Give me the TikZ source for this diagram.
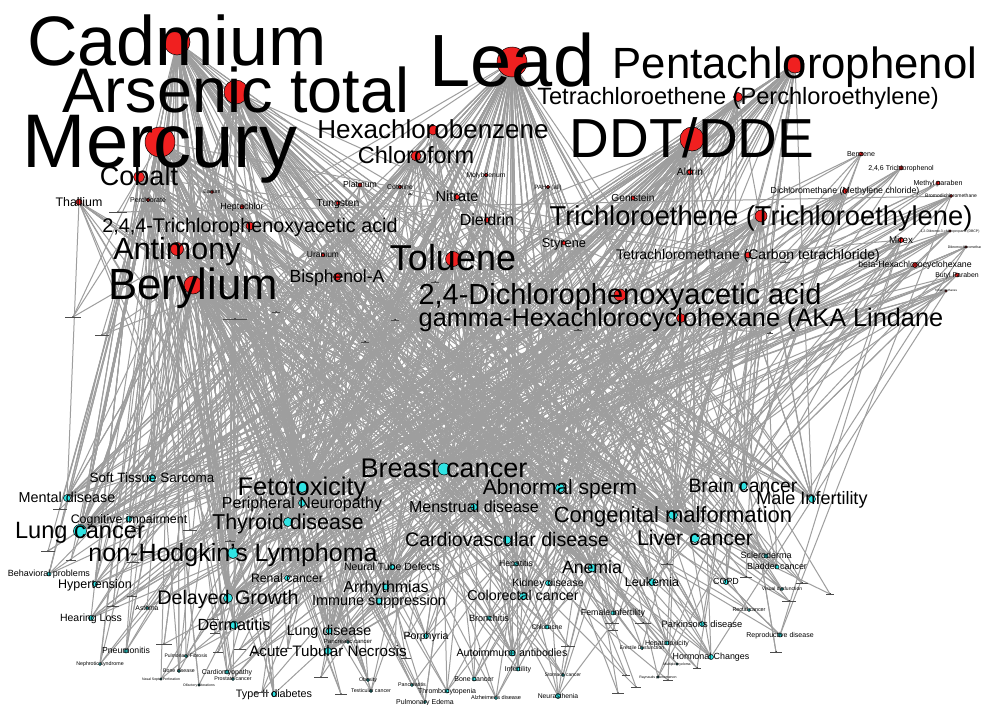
\documentclass[tikz,border=0pt]{standalone}
\usepackage{fontspec}
\setmainfont{Liberation Sans}
\pgfdeclarelayer{paper}
\pgfdeclarelayer{edges}
\pgfsetlayers{paper,edges,main}
\definecolor{chemred}{RGB}{240,32,32}
\definecolor{discyan}{RGB}{48,228,228}
\definecolor{edgegray}{RGB}{158,158,158}
\tikzset{
  edge/.style={draw=edgegray, line width=1pt},
  chemdot/.style={circle, fill=chemred, draw=black, line width=0.5pt, inner sep=0pt},
  disdot/.style={circle, fill=discyan, draw=black, line width=0.5pt, inner sep=0pt},
  minordot/.style={circle, fill=black, inner sep=0pt, minimum size=2pt},
  lbl/.style={inner sep=0pt, anchor=base, text=black},
  ticklabel/.style={draw=black!70, line width=0.35pt},
}
% weighted pool of chemical nodes: heavier substances get more links
\def\chemlist{{"lead","lead","lead","lead","lead","lead","lead","lead","lead","lead","lead","lead",%
"mercury","mercury","mercury","mercury","mercury","mercury","mercury","mercury","mercury","mercury","mercury",%
"cadmium","cadmium","cadmium","cadmium","cadmium","cadmium","cadmium","cadmium","cadmium",%
"arsenic","arsenic","arsenic","arsenic","arsenic","arsenic","arsenic","arsenic","arsenic",%
"ddt","ddt","ddt","ddt","ddt","ddt","ddt",%
"beryl","beryl","beryl","beryl","beryl",%
"penta","penta","penta","penta","penta",%
"toluene","toluene","toluene","toluene",%
"antimony","antimony","antimony","antimony",%
"cobalt","cobalt","cobalt","cobalt",%
"dtwofour","dtwofour","dtwofour","dtwofour",%
"lindane","lindane","lindane","tce","tce","tce","hcb","hcb","hcb",%
"chloroform","chloroform","chloroform","pce","pce","pce",%
"tttri","tttri","bpa","bpa","dieldrin","dieldrin","nitrate","nitrate","thallium","thallium","ctc","ctc",%
"styrene","genistein","aldrin","platinum","cotinine","tungsten","heptachlor","perchlorate","barium",%
"uranium","molyb","pahs","benzene","tcp","mparaben","dcm","bdcm","dbcp","mirex","dbcm","bhch","bparaben","thm"}}
\def\nchem{123}
% random links from a disease node to the chemical pool
\newcommand\linkrandom[2]{%
  \pgfmathtruncatemacro\nlinks{#2*1.6+0.5}%
  \begin{pgfonlayer}{edges}
    \foreach \k in {1,...,\nlinks}{%
      \pgfmathrandominteger{\rnd}{0}{\nchem}%
      \pgfmathparse{\chemlist[\rnd]}\edef\cn{\pgfmathresult}%
      \draw[edge] (#1) -- (\cn);
    }
  \end{pgfonlayer}}
% name, x, y, radius, font size, text
\newcommand\chem[6]{%
  \node[chemdot, minimum size=#4*2pt] (#1) at (#2pt,-#3pt) {};
  \node[lbl, font=\fontsize{#5pt}{#5pt}\selectfont, yshift=-0.33*#5pt] (#1-t) at (#1.center) {#6};}
% name, x, y, radius, font size, text, number of links
\newcommand\dis[7]{%
  \node[disdot, minimum size=#4*2pt] (#1) at (#2pt,-#3pt) {};
  \node[lbl, font=\fontsize{#5pt}{#5pt}\selectfont, yshift=-0.33*#5pt] (#1-t) at (#1.center) {#6};
  \linkrandom{#1}{#7}}
% name, x, y, half width of the unreadable caption, number of links
\newcommand\minor[5]{%
  \node[minordot] (#1) at (#2pt,-#3pt) {};
  \draw[ticklabel] ([xshift=-#4pt]#1.center) -- ([xshift=#4pt]#1.center);
  \linkrandom{#1}{#5}}

\begin{document}
\begin{tikzpicture}
\pgfmathsetseed{7}
\begin{pgfonlayer}{paper}
  \fill[white] (0,0) rectangle (981pt,-704pt);
\end{pgfonlayer}
\useasboundingbox (0,0) rectangle (981pt,-704pt);
\clip (0,0) rectangle (981pt,-704pt);

% ---- chemicals ----
\chem{lead}{512}{62}{15}{74}{Lead}
\chem{mercury}{160}{142}{15}{76}{Mercury}
\chem{cadmium}{177}{42}{13}{70}{Cadmium}
\chem{arsenic}{236}{92}{12}{63}{Arsenic total}
\chem{ddt}{692}{139}{12}{55}{DDT/DDE}
\chem{penta}{795}{64}{9}{43.7}{Pentachlorophenol}
\chem{pce}{738}{97}{4.5}{23.6}{Tetrachloroethene (Perchloroethylene)}
\chem{hcb}{433}{130}{5}{26}{Hexachlorobenzene}
\chem{chloroform}{416}{156}{5}{23.5}{Chloroform}
\chem{cobalt}{139}{177}{5.5}{27}{Cobalt}
\chem{thallium}{79}{202}{3}{12.4}{Thallium}
\chem{perchlorate}{148}{200}{1.8}{7}{Perchlorate}
\chem{barium}{212}{192}{1.5}{5.4}{Barium}
\chem{heptachlor}{242}{207}{2}{8.9}{Heptachlor}
\chem{tttri}{250}{226}{4}{19.8}{2,4,4-Trichlorophenoxyacetic acid}
\chem{antimony}{177}{249}{6.5}{30.5}{Antimony}
\chem{beryl}{193}{285}{9}{43.7}{Berylium}
\chem{platinum}{360}{185}{2}{8.7}{Platinum}
\chem{cotinine}{400}{187}{1.8}{7}{Cotinine}
\chem{tungsten}{338}{203}{2}{10.3}{Tungsten}
\chem{uranium}{323}{255}{1.8}{8.5}{Uranium}
\chem{bpa}{337}{277}{3.5}{17.6}{Bisphenol-A}
\chem{molyb}{486}{175}{1.8}{6.8}{Molybdenum}
\chem{nitrate}{457}{197}{2.5}{14.6}{Nitrate}
\chem{dieldrin}{487}{220}{2.5}{16}{Dieldrin}
\chem{toluene}{453}{259}{7.5}{36}{Toluene}
\chem{pahs}{548}{187}{1.8}{6.2}{PAHs (all)}
\chem{genistein}{633}{198}{2}{10.2}{Genistein}
\chem{aldrin}{690}{172}{2.5}{10.2}{Aldrin}
\chem{styrene}{564}{243}{2}{12.8}{Styrene}
\chem{tce}{761}{216}{6}{27.3}{Trichloroethene (Trichloroethylene)}
\chem{ctc}{748}{255}{3}{14}{Tetrachloromethane (Carbon tetrachloride)}
\chem{dtwofour}{620}{295}{6}{29}{2,4-Dichlorophenoxyacetic acid}
\chem{lindane}{681}{318}{4.5}{25.3}{gamma-Hexachlorocyclohexane (AKA Lindane}
\chem{benzene}{861}{154}{2}{7.1}{Benzene}
\chem{tcp}{901}{168}{2}{7}{2,4,6 Trichlorophenol}
\chem{mparaben}{938}{183}{2}{7.1}{Methyl paraben}
\chem{dcm}{845}{191}{2.5}{8.8}{Dichloromethane (Methylene chloride)}
\chem{bdcm}{951}{196}{1.5}{5}{Bromodichloromethane}
\chem{dbcp}{950}{231}{1.2}{3.5}{1,2-Dibromo-3-chloropropane (DBCP)}
\chem{mirex}{901}{240}{2.5}{9.8}{Mirex}
\chem{dbcm}{966}{247}{1.2}{3.5}{Dibromochloromethane}
\chem{bhch}{915}{265}{2.5}{8.8}{beta-Hexachlorocyclohexane}
\chem{bparaben}{957}{275}{2}{6.9}{Butyl Paraben}
\chem{thm}{946}{291}{1.2}{3}{Trihalomethanes}

% ---- health outcomes ----
\dis{bc}{444}{469}{6}{27}{Breast cancer}{40}
\dis{feto}{302}{487}{5.5}{25.5}{Fetotoxicity}{40}
\dis{absp}{560}{488}{4.5}{21}{Abnormal sperm}{24}
\dis{brain}{743}{486}{4}{19.4}{Brain cancer}{16}
\dis{malinf}{812}{499}{3.5}{18}{Male Infertility}{12}
\dis{sts}{152}{478}{3.5}{13.5}{Soft Tissue Sarcoma}{12}
\dis{mental}{67}{498}{3.5}{14.4}{Mental disease}{10}
\dis{perneu}{302}{503}{3.5}{16}{Peripheral Neuropathy}{18}
\dis{thyroid}{288}{522}{4.5}{21.5}{Thyroid disease}{28}
\dis{menstr}{474}{507}{3.5}{16}{Menstrual disease}{14}
\dis{congen}{673}{515}{4.5}{22}{Congenital malformation}{26}
\dis{cogn}{129}{519}{3}{12.4}{Cognitive impairment}{10}
\dis{lungc}{80}{531}{6.5}{23.6}{Lung cancer}{36}
\dis{nhl}{233}{553}{5.5}{25}{non-Hodgkin's Lymphoma}{34}
\dis{cardio}{507}{540}{4}{19.6}{Cardiovascular disease}{20}
\dis{liverc}{695}{538}{4.5}{21.3}{Liver cancer}{24}
\dis{sclero}{766}{556}{2}{9}{Scleroderma}{4}
\dis{bladder}{777}{567}{2}{8.9}{Bladder cancer}{5}
\dis{behav}{49}{574}{2}{9}{Behavioral problems}{4}
\dis{hyper}{95}{584}{2.5}{12.5}{Hypertension}{6}
\dis{renal}{287}{578}{2.5}{12.2}{Renal cancer}{6}
\dis{ntd}{392}{567}{2.5}{10.5}{Neural Tube Defects}{6}
\dis{hepatitis}{516}{564}{2}{8.7}{Hepatitis}{4}
\dis{anemia}{592}{568}{4}{17.7}{Anemia}{16}
\dis{leuk}{652}{582}{3.5}{12.5}{Leukemia}{10}
\dis{copd}{726}{582}{2.5}{8.9}{COPD}{4}
\dis{arrh}{386}{587}{3}{16}{Arrhythmias}{12}
\dis{kidney}{548}{583}{2.5}{10.5}{Kidney disease}{6}
\dis{delay}{228}{598}{4.5}{19.7}{Delayed Growth}{22}
\dis{immune}{379}{601}{3}{14.4}{Immune suppression}{12}
\dis{colorec}{523}{596}{3.5}{14.3}{Colorectal cancer}{12}
\dis{femin}{613}{613}{2}{8.8}{Female infertility}{4}
\dis{hearing}{91}{618}{2.5}{10.5}{Hearing Loss}{5}
\dis{asthma}{147}{608}{1.5}{6.8}{Asthma}{3}
\dis{derm}{234}{625}{4}{16.2}{Dermatitis}{16}
\dis{lungd}{329}{631}{3}{14.2}{Lung disease}{12}
\dis{bronch}{489}{618}{2}{9.1}{Bronchitis}{4}
\dis{chloracne}{547}{627}{2}{6.8}{Chloracne}{4}
\dis{park}{702}{624}{2.5}{9.3}{Parkinsons disease}{5}
\dis{visual}{782}{589}{1.5}{5}{Visual dysfunction}{3}
\dis{rectal}{749}{610}{1.5}{5.4}{Rectal cancer}{2}
\dis{repro}{780}{635}{2}{7}{Reproductive disease}{4}
\dis{porph}{426}{636}{2.5}{10.5}{Porphyria}{5}
\dis{hepatox}{667}{643}{2}{7}{Hepatotoxicity}{4}
\dis{pancc}{348}{642}{1.5}{6}{Pancreatic cancer}{3}
\dis{atn}{328}{651}{3.5}{15.2}{Acute Tubular Necrosis}{16}
\dis{autoimm}{512}{653}{3}{10.6}{Autoimmune antibodies}{8}
\dis{erectile}{642}{648}{1.5}{5}{Erectile Dysfunction}{3}
\dis{pneum}{126}{651}{2}{8.7}{Pneumonitis}{4}
\dis{hormonal}{711}{657}{2.5}{8.9}{Hormonal Changes}{5}
\dis{cardiomy}{227}{672}{2}{6.9}{Cardiomyopathy}{4}
\dis{prost}{233}{679}{1.5}{5.3}{Prostate cancer}{3}
\dis{bonedis}{179}{671}{1.5}{5.2}{Bone disease}{3}
\dis{pulfib}{186}{656}{1.5}{5}{Pulmonary Fibrosis}{3}
\dis{nasal}{161}{679}{1.2}{3.5}{Nasal Septal Perforation}{2}
\dis{olfact}{199}{685}{1.2}{3.5}{Olfactory Alterations}{2}
\dis{nephro}{100}{664}{1.5}{5.3}{Nephrotic syndrome}{3}
\dis{ttwo}{274}{694}{2.5}{10.8}{Type II diabetes}{5}
\dis{bonec}{474}{679}{2}{7}{Bone cancer}{4}
\dis{infert}{518}{669}{2}{7}{Infertility}{4}
\dis{neurast}{558}{696}{2.5}{6.8}{Neurasthenia}{4}
\dis{thromb}{447}{691}{2}{7}{Thrombocytopenia}{4}
\dis{pancr}{412}{685}{1.5}{5.3}{Pancreatitis}{3}
\dis{obes}{368}{680}{1.5}{5.3}{Obesity}{3}
\dis{testic}{371}{691}{1.5}{5.3}{Testicular cancer}{3}
\dis{puled}{425}{702}{1.5}{7}{Pulmonary Edema}{3}
\dis{alz}{496}{698}{1.5}{5.6}{Alzheimer's disease}{3}
\dis{stomach}{563}{675}{1.5}{5}{Stomach cancer}{3}
\dis{mmyel}{677}{664}{1.2}{3.5}{Multiple myeloma}{2}
\dis{raynaud}{658}{677}{1.2}{3.5}{Raynauds phenomenon}{2}

% ---- sparsely linked nodes with tiny captions ----
\minor{ua}{73}{317}{8}{2}
\minor{ub}{102}{335}{7}{2}
\minor{uc}{235}{319}{12}{2}
\minor{ud}{276}{312}{4}{2}
\minor{ue}{365}{342}{4}{1}
\minor{uf}{395}{320}{4}{1}
\minor{ug}{435}{282}{4}{1}
\minor{uh}{578}{330}{4}{1}
\minor{ui}{785}{262}{5}{1}
\minor{uj}{118}{212}{9}{1}
\minor{uk}{410}{194}{2}{1}
\minor{ul}{770}{333}{3}{1}
\minor{um}{60}{509}{7}{2}
\minor{un}{135}{528}{4}{2}
\minor{uo}{190}{530}{7}{2}
\minor{up}{48}{551}{7}{2}
\minor{uq}{71}{560}{5}{1}
\minor{ur}{133}{562}{6}{2}
\minor{us}{132}{596}{5}{2}
\minor{ut}{113}{606}{6}{2}
\minor{uu}{213}{619}{6}{2}
\minor{uv}{215}{633}{5}{2}
\minor{uw}{218}{652}{5}{2}
\minor{ux}{240}{649}{6}{2}
\minor{uy}{230}{541}{5}{2}
\minor{uz}{258}{653}{5}{2}
\minor{va}{262}{692}{7}{2}
\minor{vb}{288}{648}{4}{2}
\minor{vc}{321}{677}{7}{2}
\minor{vd}{341}{694}{6}{2}
\minor{ve}{164}{644}{8}{2}
\minor{vf}{395}{648}{4}{2}
\minor{vg}{406}{658}{5}{2}
\minor{vh}{408}{636}{3}{1}
\minor{vi}{612}{623}{7}{2}
\minor{vj}{613}{630}{5}{1}
\minor{vk}{643}{623}{8}{2}
\minor{vl}{667}{564}{6}{2}
\minor{vm}{697}{668}{4}{2}
\minor{vn}{830}{594}{4}{1}
\minor{vo}{802}{583}{6}{2}
\minor{vp}{746}{577}{6}{2}
\minor{vq}{776}{652}{6}{1}
\minor{vr}{618}{693}{6}{1}
\minor{vs}{636}{687}{5}{1}
\minor{vt}{626}{675}{4}{1}
\minor{vu}{668}{680}{5}{1}
\minor{vv}{789}{601}{7}{2}
\minor{vw}{568}{646}{7}{2}
\end{tikzpicture}
\end{document}
